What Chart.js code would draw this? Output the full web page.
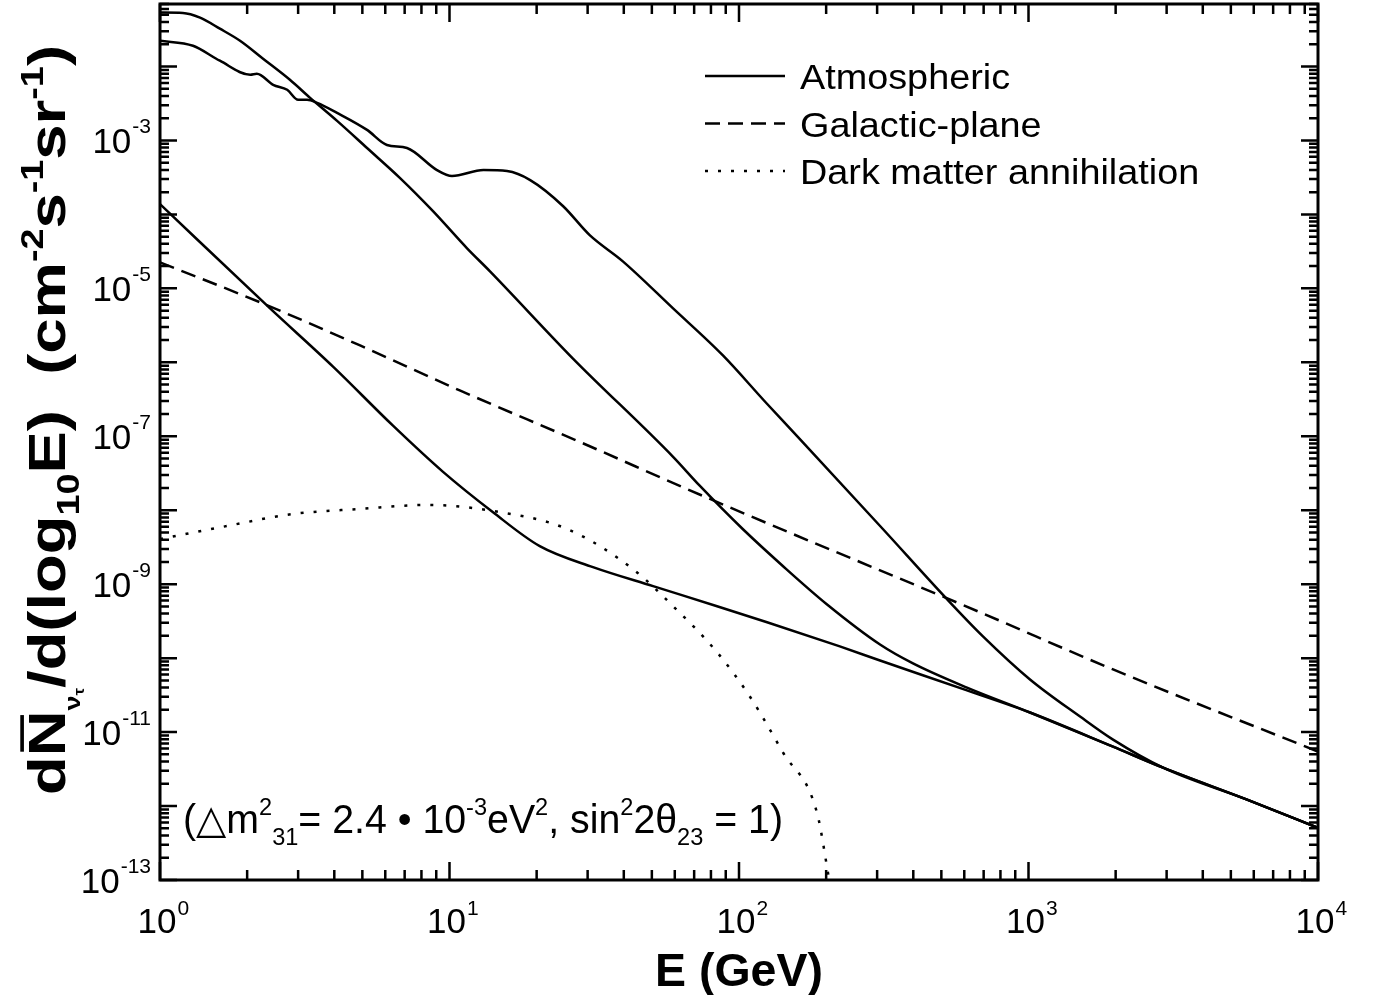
<!DOCTYPE html>
<html>
<head>
<meta charset="utf-8">
<script src="https://cdn.jsdelivr.net/npm/chart.js@4.4.1/dist/chart.umd.min.js"></script>
<style>
  html, body { margin: 0; padding: 0; background: #fff; }
  #wrap { width: 1377px; height: 995px; }
</style>
</head>
<body>
<div id="wrap"><canvas id="c"></canvas></div>
<script>
// values: E in GeV, flux in cm^-2 s^-1 sr^-1
const atm1E = [1, 1.2, 1.375, 1.61, 1.89, 2.27, 2.81, 3.3, 4.09, 5.19, 6.75, 8.77, 11.5, 13.8, 26.7, 59.2, 73.3, 103, 142, 201, 307, 399, 613, 1012, 1959, 2916, 5688, 10000];
const atm1F = [0.0536, 0.053, 0.0458, 0.0325, 0.0223, 0.01274, 0.00661, 0.00377, 0.001837, 7.9e-4, 3.1e-4, 1.107e-4, 3.48e-5, 1.70e-5, 1.125e-6, 5.27e-8, 2.13e-8, 5.57e-9, 1.75e-9, 5.36e-10, 1.53e-10, 8.5e-11, 4.0e-11, 1.84e-11, 6.35e-12, 3.30e-12, 1.22e-12, 5.07e-13];

const atm2E = [1, 1.30, 1.61, 2.05, 2.16, 2.46, 2.75, 3.00, 3.22, 3.49, 4.09, 5.19, 6.08, 7.13, 9.05, 10.2, 13.1, 15.8, 19.0, 24.7, 30.5, 39.7, 59.2, 88.0, 124, 162, 314, 523, 696, 1012, 1507, 1959, 2916, 5688, 10000];
const atm2F = [0.0223, 0.0191, 0.01197, 0.00773, 0.00798, 0.00566, 0.00484, 0.00354, 0.00354, 0.00322, 0.00236, 0.00139, 8.69e-4, 7.91e-4, 3.98e-4, 3.30e-4, 3.98e-4, 3.85e-4, 2.91e-4, 1.29e-4, 5.24e-5, 2.32e-5, 5.36e-6, 1.24e-6, 2.84e-7, 9.25e-8, 5.57e-9, 6.27e-10, 1.97e-10, 5.15e-11, 1.62e-11, 7.9e-12, 3.30e-12, 1.22e-12, 5.07e-13];

const atm3E = [1, 2.40, 3.96, 6.38, 9.50, 14.1, 20.5, 31.3, 50.5, 84.0, 125, 223, 307, 613, 1012, 1959, 2916, 5688, 10000];
const atm3F = [1.377e-4, 5.36e-6, 8.75e-7, 1.39e-7, 3.30e-8, 9.46e-9, 3.27e-9, 1.70e-9, 9.40e-10, 5.04e-10, 3.06e-10, 1.44e-10, 9.3e-11, 3.66e-11, 1.84e-11, 6.35e-12, 3.30e-12, 1.22e-12, 5.07e-13];

const galE = [1, 2.22, 4.91, 10.9, 27.6, 79.4, 680, 1959, 10000];
const galF = [2.25e-5, 6.46e-6, 1.69e-6, 4.14e-7, 8.69e-8, 1.42e-8, 4.17e-10, 7.03e-11, 5.45e-12];

const dmE = [1, 1.70, 2.88, 4.91, 8.36, 14.1, 25.5, 43.0, 59.2, 84.0, 109, 142, 186, 205];
const dmF = [4.07e-9, 6.11e-9, 8.89e-9, 1.04e-8, 1.18e-8, 9.77e-9, 5.57e-9, 1.60e-9, 5.04e-10, 1.20e-10, 3.03e-11, 5.27e-12, 8.09e-13, 1.0e-13];

const xLabelExps = [0, 1, 2, 3, 4];
const yLabelExps = [-3, -5, -7, -9, -11, -13];
const legendLabels = ['Atmospheric', 'Galactic-plane', 'Dark matter annihilation'];

const FONT = '"Liberation Sans", Arial, "DejaVu Sans", sans-serif';
const pts = (xs, ys) => xs.map((v, i) => ({ x: v, y: ys[i] }));
const line = (data, dash) => ({
  data, borderColor: '#000', borderWidth: 2.5, borderDash: dash,
  pointRadius: 0, cubicInterpolationMode: 'monotone', fill: false
});

// rich text: segments {t, s: size factor, dy: shift in units of base size}
function segFont(s, base, weight) {
  return `${weight} ${Math.round(base * (s.s || 1))}px ${FONT}`;
}
function drawRich(ctx, segs, x, y, base, weight, targetW, align) {
  let w = 0;
  segs.forEach(s => { ctx.font = segFont(s, base, weight); w += ctx.measureText(s.t).width; });
  const sx = targetW ? targetW / w : 1;
  ctx.save();
  ctx.translate(x, y);
  ctx.scale(sx, 1);
  let cx = align === 'center' ? -w / 2 : align === 'right' ? -w : 0;
  ctx.textBaseline = 'alphabetic';
  ctx.textAlign = 'left';
  segs.forEach(s => {
    ctx.font = segFont(s, base, weight);
    const sw = ctx.measureText(s.t).width;
    ctx.fillText(s.t, cx, (s.dy || 0) * base);
    if (s.bar) ctx.fillRect(cx + sw * 0.1, -base * 0.86, sw * 0.8, base * 0.07);
    cx += sw;
  });
  ctx.restore();
}

const decor = {
  id: 'decor',
  afterDraw(chart) {
    const { ctx, chartArea: a, scales: { x, y } } = chart;
    ctx.save();
    ctx.strokeStyle = '#000';
    ctx.fillStyle = '#000';
    ctx.lineWidth = 2.5;
    ctx.beginPath();
    for (let e = 0; e <= 4; e++) {
      for (let k = 1; k < 10; k++) {
        const v = k * Math.pow(10, e);
        if (v > x.max * 1.0001) break;
        const px = x.getPixelForValue(v);
        const len = k === 1 ? 18 : 10;
        ctx.moveTo(px, a.bottom); ctx.lineTo(px, a.bottom - len);
        ctx.moveTo(px, a.top); ctx.lineTo(px, a.top + len);
      }
    }
    for (let e = -13; e <= -2; e++) {
      for (let k = 1; k < 10; k++) {
        const v = k * Math.pow(10, e);
        if (v > y.max * 1.0001) break;
        const py = y.getPixelForValue(v);
        const len = k === 1 ? 17 : 9;
        ctx.moveTo(a.left, py); ctx.lineTo(a.left + len, py);
        ctx.moveTo(a.right, py); ctx.lineTo(a.right - len, py);
      }
    }
    ctx.stroke();
    ctx.lineWidth = 3;
    ctx.strokeRect(a.left, a.top, a.right - a.left, a.bottom - a.top);

    // tick labels
    xLabelExps.forEach(e => {
      const px = x.getPixelForValue(Math.pow(10, e));
      ctx.font = `35px ${FONT}`;
      ctx.textAlign = 'center';
      ctx.fillText('10', px - 3, a.bottom + 53);
      const w = ctx.measureText('10').width;
      ctx.font = `21px ${FONT}`;
      ctx.textAlign = 'left';
      ctx.fillText(String(e), px - 3 + w / 2 + 1, a.bottom + 35);
    });
    yLabelExps.forEach(e => {
      const py = y.getPixelForValue(Math.pow(10, e));
      ctx.font = `21px ${FONT}`;
      ctx.textAlign = 'right';
      const sup = String(e);
      ctx.fillText(sup, 151, py - 7);
      const sw = ctx.measureText(sup).width;
      ctx.font = `35px ${FONT}`;
      ctx.fillText('10', 151 - sw - 1, py + 13);
    });

    // axis titles
    drawRich(ctx, [{ t: 'E (GeV)' }], 739, 986, 46, 'bold', 168, 'center');
    ctx.save();
    ctx.translate(65, 795);
    ctx.rotate(-Math.PI / 2);
    drawRich(ctx, [
      { t: 'd' }, { t: 'N', bar: true }, { t: 'ν', s: 0.42, dy: 0.28 }, { t: 'τ', s: 0.26, dy: 0.36 },
      { t: '/d(log' }, { t: '10', s: 0.6, dy: 0.26 }, { t: 'E)  (cm' },
      { t: '-2', s: 0.6, dy: -0.42 }, { t: 's' }, { t: '-1', s: 0.6, dy: -0.42 },
      { t: 'sr' }, { t: '-1', s: 0.6, dy: -0.42 }, { t: ')' }
    ], 0, 0, 52, 'bold', 750, 'left');
    ctx.restore();

    // oscillation parameters
    drawRich(ctx, [
      { t: '(' }, { t: '△' }, { t: 'm' }, { t: '2', s: 0.6, dy: -0.45 }, { t: '31', s: 0.6, dy: 0.3 },
      { t: '= 2.4 ' }, { t: '•' }, { t: ' 10' }, { t: '-3', s: 0.6, dy: -0.45 }, { t: 'eV' },
      { t: '2', s: 0.6, dy: -0.45 }, { t: ', sin' }, { t: '2', s: 0.6, dy: -0.45 }, { t: '2θ' },
      { t: '23', s: 0.6, dy: 0.3 }, { t: ' = 1)' }
    ], 183, 833, 40, 'normal', 600, 'left');

    // legend
    const legendDs = [0, 3, 4];
    legendLabels.forEach((lab, i) => {
      const ds = chart.data.datasets[legendDs[i]];
      const ly = 76 + i * 47.5;
      ctx.lineWidth = 2.5;
      ctx.setLineDash(ds.borderDash || []);
      ctx.beginPath();
      ctx.moveTo(705, ly); ctx.lineTo(785, ly);
      ctx.stroke();
      ctx.setLineDash([]);
      ctx.save();
      ctx.translate(800, ly + 13);
      ctx.scale(1.08, 1);
      ctx.font = `35px ${FONT}`;
      ctx.textAlign = 'left';
      ctx.fillText(lab, 0, 0);
      ctx.restore();
    });
    ctx.restore();
  }
};

new Chart(document.getElementById('c'), {
  type: 'line',
  data: {
    datasets: [
      line(pts(atm1E, atm1F), []),
      line(pts(atm2E, atm2F), []),
      line(pts(atm3E, atm3F), []),
      line(pts(galE, galF), [15, 8]),
      line(pts(dmE, dmF), [3, 10])
    ]
  },
  options: {
    responsive: true,
    maintainAspectRatio: false,
    animation: false,
    layout: { padding: { left: 160, right: 59, top: 4, bottom: 115 } },
    plugins: { legend: { display: false }, tooltip: { enabled: false } },
    scales: {
      x: { type: 'logarithmic', min: 1, max: 1e4, display: false },
      y: { type: 'logarithmic', min: 1e-13, max: 0.07, display: false }
    }
  },
  plugins: [decor]
});
</script>
</body>
</html>
